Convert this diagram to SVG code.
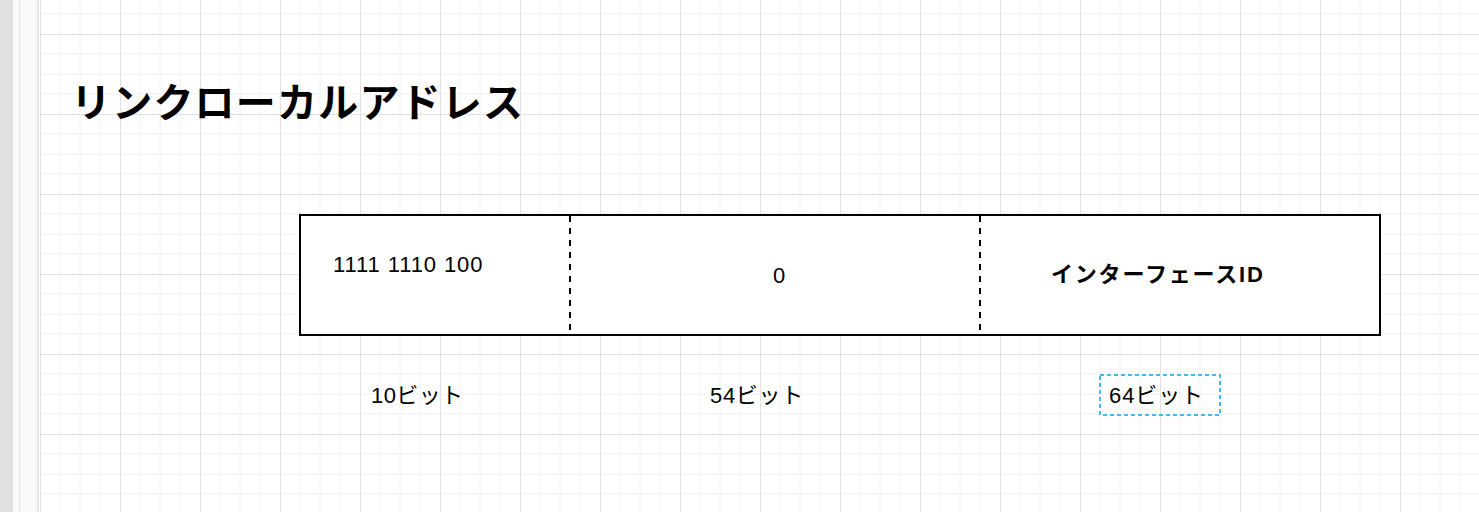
<svg xmlns="http://www.w3.org/2000/svg" width="1479" height="512" viewBox="0 0 1479 512">
  <defs>
    <pattern id="grid" patternUnits="userSpaceOnUse" x="40" y="34" width="80" height="80">
      <path d="M20 0V80M40 0V80M60 0V80M0 20H80M0 40H80M0 60H80" fill="none" stroke="#f2f2f2" stroke-width="1"/>
      <path d="M0.5 0V80M0 0.5H80" fill="none" stroke="#e2e2e2" stroke-width="1"/>
    </pattern>
    <style>
      .lbl { font-family: "Liberation Sans", "Noto Sans CJK JP", sans-serif; font-size: 22px; fill: #000; }
      .bold { font-weight: bold; }
      .title { font-family: "Noto Sans CJK JP", "Liberation Sans", sans-serif; font-size: 40px; font-weight: bold; fill: #000; letter-spacing: 1.2px; }
      .divider { stroke: #000; stroke-width: 2; stroke-dasharray: 6 6; fill: none; }
    </style>
  </defs>

  <!-- background -->
  <rect x="0" y="0" width="1479" height="512" fill="#ffffff"/>
  <rect x="40" y="0" width="1439" height="512" fill="url(#grid)"/>
  <rect x="0" y="0" width="13" height="512" fill="#e0e0e0"/>
  <rect x="13" y="0" width="6" height="512" fill="#fafafa"/>
  <rect x="19" y="0" width="1.5" height="512" fill="#e4e4e4"/>
  <rect x="20.5" y="0" width="16.5" height="512" fill="#fafafa"/>
  <rect x="37" y="0" width="2" height="512" fill="#e4e4e4"/>

  <g id="title">
    <text class="title" x="71" y="117">リンクローカルアドレス</text>
  </g>

  <g id="address-table">
    <rect x="300" y="215" width="1080" height="120" fill="#ffffff" stroke="#000" stroke-width="2"/>
    <g id="dividers">
      <line class="divider" x1="570" y1="216" x2="570" y2="334"/>
      <line class="divider" x1="980" y1="216" x2="980" y2="334"/>
    </g>
  </g>

  <g id="prefix">
    <text class="lbl" x="333" y="272" letter-spacing="0.9">1111 1110 100</text>
  </g>
  <g id="zero">
    <text class="lbl" x="779" y="283" text-anchor="middle">0</text>
  </g>
  <g id="interface-id">
    <text class="lbl bold" x="1051" y="282" letter-spacing="1.8">インターフェースID</text>
  </g>

  <g id="bits-10">
    <text class="lbl" x="371" y="403" letter-spacing="0.4">10ビット</text>
  </g>
  <g id="bits-54">
    <text class="lbl" x="710" y="403" letter-spacing="0.7">54ビット</text>
  </g>
  <g id="bits-64">
    <rect x="1100" y="375" width="120" height="40" fill="none" stroke="#00a8f0" stroke-width="1.5" stroke-dasharray="4 3"/>
    <text class="lbl" x="1109" y="403" letter-spacing="0.9">64ビット</text>
  </g>
</svg>
